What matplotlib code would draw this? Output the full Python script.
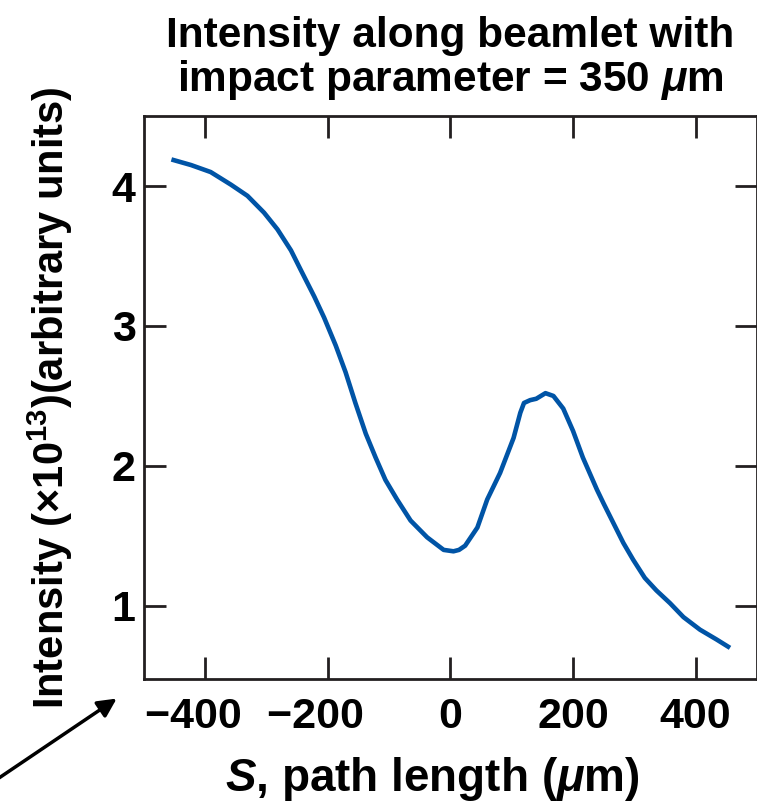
import numpy as np
import matplotlib
matplotlib.use("Agg")
import matplotlib.pyplot as plt

# values
path_um = [-455, -423, -391, -358, -331, -304, -282, -260, -244, -222, -206,
           -187, -171, -155, -138, -122, -106, -87, -65, -38, -11, 5, 14, 24,
           44, 60, 81, 103, 114, 120, 130, 140, 155, 168, 184, 200, 216, 239,
           250, 266, 282, 298, 317, 336, 358, 380, 407, 434, 456]
intensity = [4.19, 4.15, 4.10, 4.01, 3.93, 3.81, 3.69, 3.54, 3.40, 3.21, 3.06,
             2.86, 2.67, 2.45, 2.23, 2.06, 1.90, 1.76, 1.61, 1.49, 1.40, 1.39,
             1.40, 1.43, 1.56, 1.76, 1.95, 2.20, 2.38, 2.45, 2.47, 2.48, 2.52,
             2.50, 2.41, 2.25, 2.06, 1.83, 1.73, 1.59, 1.45, 1.33, 1.20, 1.11,
             1.02, 0.92, 0.83, 0.76, 0.70]
x_ticks = [-400, -200, 0, 200, 400]
# trailing figure space keeps the digits centred on the tick, minus hangs left
x_tick_labels = ["\u2212400\u2007", "\u2212200\u2007", "0", "200", "400"]
y_ticks = [1, 2, 3, 4]

plt.rcParams['font.family'] = ['Liberation Sans', 'DejaVu Sans']
plt.rcParams['font.weight'] = 'bold'
plt.rcParams['axes.labelweight'] = 'bold'
plt.rcParams['mathtext.fontset'] = 'custom'
plt.rcParams['mathtext.rm'] = 'Liberation Sans:bold'
plt.rcParams['mathtext.it'] = 'Liberation Sans:bold:italic'
plt.rcParams['mathtext.bf'] = 'Liberation Sans:bold'

fig = plt.figure(figsize=(7.57, 8.06), dpi=100)
ax = fig.add_axes([0.190, 0.158, 0.810, 0.698])

ax.plot(path_um, intensity, color="#0054a6", lw=3.3, solid_capstyle="butt")

ax.set_xlim(-500, 500)
ax.set_ylim(0.48, 4.5)
ax.set_xticks(x_ticks)
ax.set_xticklabels(x_tick_labels)
ax.set_yticks(y_ticks)

for s in ax.spines.values():
    s.set_linewidth(2.0)
    s.set_color("#231f20")
ax.tick_params(direction="in", length=16, width=2.0, color="#231f20",
               top=True, right=True, labelsize=31)
ax.tick_params(axis="x", pad=13)
ax.tick_params(axis="y", pad=6)

ax.set_title("Intensity along beamlet with\nimpact parameter = 350 $\\mu$m",
             fontsize=30.5, fontweight="bold", pad=18, linespacing=1.05)
ax.set_xlabel("$S$, path length ($\\mu$m)", fontsize=33)
ax.xaxis.set_label_coords(0.47, -0.136)
ax.set_ylabel("Intensity ($\\times$10$^{13}$)(arbitrary units)", fontsize=30,
              labelpad=26)

ax.annotate("", xy=(119, 109), xycoords="figure pixels",
            xytext=(-4, 26), textcoords="figure pixels",
            arrowprops=dict(arrowstyle="-|>", color="black", lw=2.5,
                            mutation_scale=28))

fig.savefig("out.png", dpi=100)
